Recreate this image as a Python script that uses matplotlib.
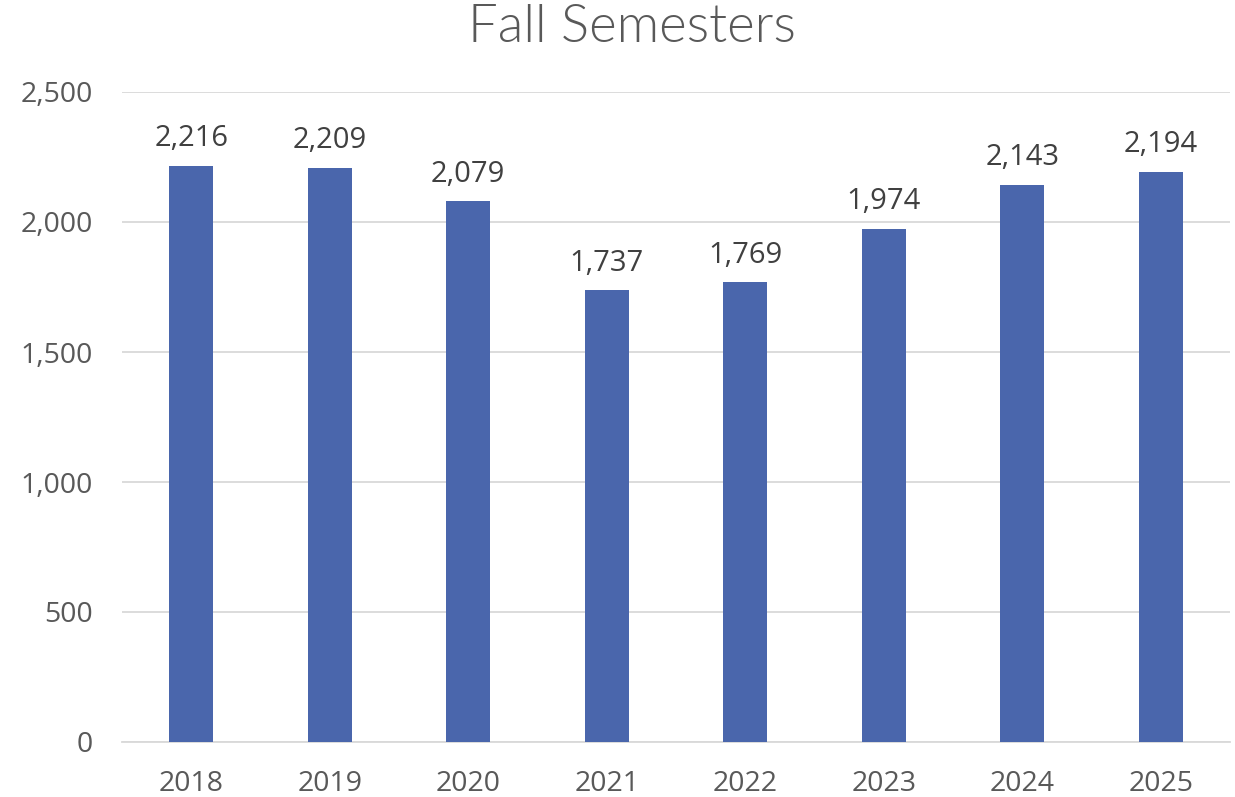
import matplotlib
matplotlib.use("Agg")
import matplotlib.pyplot as plt
from matplotlib.ticker import FuncFormatter

years = ["2018", "2019", "2020", "2021", "2022", "2023", "2024", "2025"]
enrollment = [2216, 2209, 2079, 1737, 1769, 1974, 2143, 2194]
yticks = [0, 500, 1000, 1500, 2000, 2500]

bar_color = "#4A66AC"
text_color = "#595959"
grid_color = "#D9D9D9"

fig = plt.figure(figsize=(12.35, 7.97), dpi=100)
ax = fig.add_axes([122/1235, 1 - 742/797, (1230-122)/1235, (742-92)/797])

x = list(range(len(years)))
bars = ax.bar(x, enrollment, width=0.32, color=bar_color, zorder=3)

ax.set_xlim(-0.5, len(years) - 0.5)
ax.set_ylim(0, 2500)
ax.set_yticks(yticks)
ax.yaxis.set_major_formatter(FuncFormatter(lambda v, p: f"{int(v):,}"))
ax.set_xticks(x)
ax.set_xticklabels(years)

ax.grid(axis="y", color=grid_color, linewidth=1.3, zorder=0)
for s in ["top", "right", "left"]:
    ax.spines[s].set_visible(False)
ax.spines["bottom"].set_color(grid_color)
ax.spines["bottom"].set_linewidth(1.3)
ax.tick_params(axis="both", length=0, colors=text_color, labelsize=20.5)
ax.tick_params(axis="y", pad=21)
ax.tick_params(axis="x", pad=20)
for lbl in ax.get_xticklabels() + ax.get_yticklabels():
    lbl.set_fontfamily("Open Sans")

for xi, v in zip(x, enrollment):
    ax.annotate(f"{v:,}", (xi, v), xytext=(0, 9), textcoords="offset points",
                ha="center", va="bottom", fontsize=21, color="#404040",
                fontfamily="Open Sans")

fig.text(632/1235, 1 - 28/797, "Fall Semesters", ha="center", va="center",
         fontsize=38, color=text_color, fontfamily="Lato", fontweight=300)

fig.savefig("out.png", dpi=100, facecolor="white")
